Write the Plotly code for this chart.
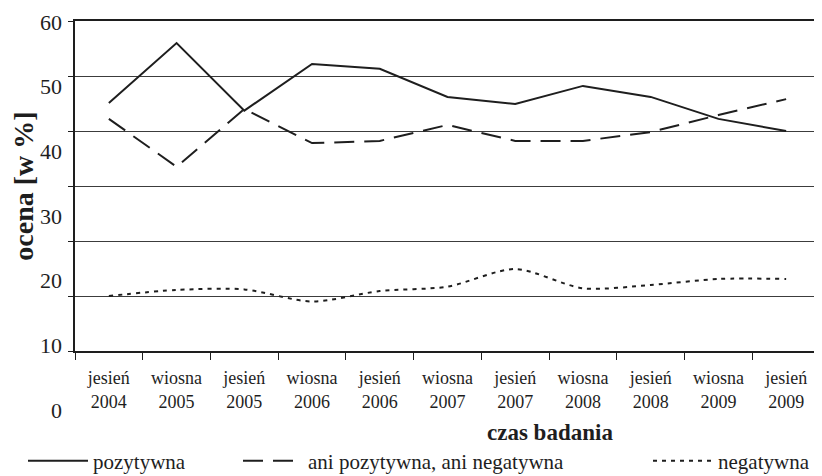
import plotly.graph_objects as go

# ---- data ----
categories = ["jesień<br>2004", "wiosna<br>2005", "jesień<br>2005", "wiosna<br>2006",
              "jesień<br>2006", "wiosna<br>2007", "jesień<br>2007", "wiosna<br>2008",
              "jesień<br>2008", "wiosna<br>2009", "jesień<br>2009"]
pozytywna = [45.1, 56.0, 43.7, 52.2, 51.3, 46.2, 44.9, 48.2, 46.2, 42.2, 40.0]
ani = [42.2, 33.5, 44.0, 37.8, 38.2, 41.1, 38.2, 38.2, 39.8, 42.9, 45.8]
negatywna = [10.0, 11.1, 11.2, 9.0, 10.9, 11.7, 14.9, 11.4, 12.0, 13.1, 13.1]
y_tick_values = [0, 10, 20, 30, 40, 50, 60]
y_tick_labels = ["0", "10", "20", "30", "40", "50", "60"]

FONT = "Liberation Serif, Times New Roman, serif"
INK = "#1e1e1e"

# the page places the figure 8 px in from the window's top-left corner
OFF = 8
W, H = 822 - OFF, 476 - OFF
# plot frame in window pixels
PL, PR, PT, PB = 75, 820, 21, 351


def px_x(p):
    return (p - OFF) / W


def px_y(p):
    return (H - (p - OFF)) / H


# the printed value labels in the source sit on their own, wider scale
# (60 at the top edge, 0 below the category labels)
label_top_px, label_step_px = 22, 6.467


def label_y(v):
    return px_y(label_top_px + (60 - v) * label_step_px)


fig = go.Figure()
fig.add_trace(go.Scatter(x=categories, y=pozytywna, name="pozytywna", mode="lines",
                         line=dict(color=INK, width=2), legend="legend"))
fig.add_trace(go.Scatter(x=categories, y=ani, name="ani pozytywna, ani negatywna", mode="lines",
                         line=dict(color=INK, width=2, dash="20px,10px"), legend="legend2"))
fig.add_trace(go.Scatter(x=categories, y=negatywna, name="negatywna", mode="lines",
                         line=dict(color=INK, width=2, dash="4px,5px", shape="spline", smoothing=0.8),
                         legend="legend3"))

annotations = [dict(text=t, xref="paper", yref="paper", x=px_x(64), y=label_y(v),
                    xanchor="right", yanchor="middle", showarrow=False,
                    font=dict(size=22, family=FONT, color=INK))
               for v, t in zip(y_tick_values, y_tick_labels)]
annotations.append(dict(text="<b>czas badania</b>", xref="paper", yref="paper",
                        x=px_x(550), y=px_y(432), xanchor="center", yanchor="middle",
                        showarrow=False, font=dict(size=23, family=FONT, color=INK)))

legend_common = dict(orientation="h", yanchor="bottom", xanchor="left", itemwidth=60,
                     y=-0.012, font=dict(size=21, family=FONT, color=INK),
                     bgcolor="rgba(0,0,0,0)")

fig.update_layout(
    width=W, height=H, template="none",
    margin=dict(l=0, r=0, t=0, b=0, autoexpand=False),
    paper_bgcolor="white", plot_bgcolor="white",
    font=dict(family=FONT, color=INK),
    showlegend=True,
    xaxis=dict(domain=[px_x(PL), px_x(PR)], type="category", range=[-0.5, 10.5],
               tickson="boundaries", ticks="outside", ticklen=7, tickcolor=INK, tickwidth=1,
               showline=True, mirror=True, linecolor=INK, linewidth=1.5, showgrid=False,
               tickfont=dict(size=18, family=FONT, color=INK), ticklabelstandoff=10,
               automargin=False, anchor="y"),
    yaxis=dict(domain=[px_y(PB), px_y(PT)], range=[0, 60], tickmode="array",
               tickvals=y_tick_values,
               showticklabels=False, ticks="outside", ticklen=5, tickcolor=INK,
               showline=True, linecolor=INK, linewidth=1.5, zeroline=False,
               showgrid=True, gridcolor="#3c3c3c", gridwidth=1,
               title=dict(text="<b>ocena [w %]</b>", font=dict(size=28, family=FONT, color=INK),
                          standoff=46),
               automargin=False),
    legend=dict(x=px_x(23), **legend_common),
    legend2=dict(x=px_x(238), **legend_common),
    legend3=dict(x=px_x(648), **legend_common),
    annotations=annotations,
)

fig.write_html("out.html")
